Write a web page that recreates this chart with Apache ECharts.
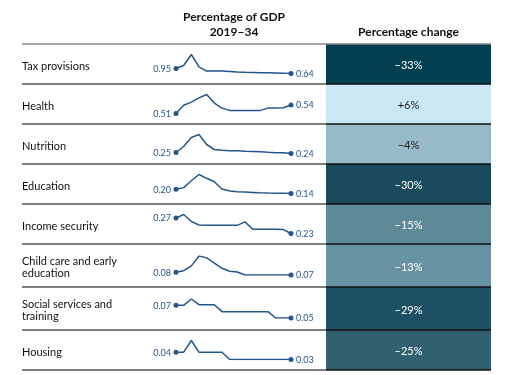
<!DOCTYPE html>
<html>
<head>
<meta charset="utf-8">
<script src="https://cdn.jsdelivr.net/npm/echarts@6/dist/echarts.min.js"></script>
<style>
  html, body { margin: 0; padding: 0; background: #fff; }
  #chart { width: 518px; height: 375px; }
</style>
</head>
<body>
<div id="chart"></div>
<script>
// rows of the table
const categories = [
  'Tax provisions',
  'Health',
  'Nutrition',
  'Education',
  'Income security',
  'Child care and early\neducation',
  'Social services and\ntraining',
  'Housing',
]

const years = ['2019', '2020', '2021', '2022', '2023', '2024', '2025', '2026',
  '2027', '2028', '2029', '2030', '2031', '2032', '2033', '2034']

// percentage of GDP, 2019-34
const taxProvisions = [0.95, 1.14, 1.82, 1.05, 0.79, 0.79, 0.79, 0.77, 0.73, 0.71, 0.70, 0.69, 0.68, 0.67, 0.66, 0.64]
const health = [0.51, 0.539, 0.55, 0.565, 0.577, 0.547, 0.529, 0.521, 0.521, 0.521, 0.521, 0.521, 0.529, 0.529, 0.53, 0.54]
const nutrition = [0.25, 0.31, 0.40, 0.43, 0.33, 0.28, 0.272, 0.267, 0.267, 0.263, 0.26, 0.257, 0.252, 0.248, 0.247, 0.24]
const education = [0.20, 0.225, 0.325, 0.415, 0.36, 0.31, 0.205, 0.175, 0.165, 0.16, 0.155, 0.15, 0.146, 0.144, 0.143, 0.14]
const incomeSecurity = [0.27, 0.279, 0.261, 0.252, 0.251, 0.251, 0.251, 0.251, 0.251, 0.26, 0.241, 0.241, 0.241, 0.241, 0.24, 0.23]
const childCare = [0.08, 0.086, 0.104, 0.141, 0.134, 0.114, 0.095, 0.084, 0.081, 0.07, 0.07, 0.07, 0.07, 0.07, 0.07, 0.07]
const socialServices = [0.07, 0.07, 0.08, 0.071, 0.071, 0.071, 0.06, 0.06, 0.06, 0.06, 0.06, 0.06, 0.06, 0.05, 0.05, 0.05]
const housing = [0.04, 0.04, 0.056, 0.04, 0.04, 0.04, 0.04, 0.03, 0.03, 0.03, 0.03, 0.03, 0.03, 0.03, 0.03, 0.03]

const shareOfGdp = [taxProvisions, health, nutrition, education, incomeSecurity, childCare, socialServices, housing]

// percentage change 2019-34
const percentChange = [-33, 6, -4, -30, -15, -13, -29, -25]

// styles
const blockColors = ['#013f51', '#c9e8f3', '#96bac8', '#1a4b5c', '#5e8997', '#6893a2', '#1d5063', '#31606f']
const lineColor = '#24568a'
const font = 'Lato, "Noto Sans", sans-serif'

// layout
const tableTop = 44
const rowHeights = [40, 40, 40, 40, 40, 43, 43, 40]
const tableLeft = 22
const blockLeft = 326
const blockRight = 491
const sparkLeft = 176
const sparkWidth = 115
const sparkHeight = 19

const rowTops = []
let y = tableTop
rowHeights.forEach((h) => {
  rowTops.push(y)
  y += h
})
const tableBottom = y

function formatChange(v) {
  return (v > 0 ? '+' : '\u2212') + Math.abs(v) + '%'
}

function isLight(hex) {
  const r = parseInt(hex.slice(1, 3), 16)
  const g = parseInt(hex.slice(3, 5), 16)
  const b = parseInt(hex.slice(5, 7), 16)
  return 0.299 * r + 0.587 * g + 0.114 * b > 150
}

const grid = []
const xAxis = []
const yAxis = []
const series = []
const graphic = []

categories.forEach((name, i) => {
  const top = rowTops[i]
  const h = rowHeights[i]
  const mid = top + h / 2
  const values = shareOfGdp[i]
  const last = values.length - 1

  // sparkline
  grid.push({ left: sparkLeft, width: sparkWidth, top: mid - sparkHeight / 2, height: sparkHeight })
  xAxis.push({ type: 'category', gridIndex: 2 * i, data: years, boundaryGap: false, show: false })
  yAxis.push({ type: 'value', gridIndex: 2 * i, min: 'dataMin', max: 'dataMax', show: false })
  series.push({
    type: 'line',
    xAxisIndex: 2 * i,
    yAxisIndex: 2 * i,
    symbol: 'circle',
    showAllSymbol: true,
    lineStyle: { color: lineColor, width: 1.5 },
    itemStyle: { color: lineColor },
    data: values.map((v, k) => {
      const end = k === 0 || k === last
      return {
        value: v,
        symbolSize: end ? 5 : 0,
        label: {
          show: end,
          position: k === 0 ? 'left' : 'right',
          distance: 2.5,
          offset: [0, 0.5],
          color: lineColor,
          fontSize: 9,
          fontFamily: font,
          formatter: (p) => Number(p.value).toFixed(2),
        },
      }
    }),
  })

  // percentage change cell
  grid.push({ left: blockLeft, width: blockRight - blockLeft, top: top, height: h })
  xAxis.push({ type: 'category', gridIndex: 2 * i + 1, data: ['change'], show: false })
  yAxis.push({ type: 'value', gridIndex: 2 * i + 1, min: 0, max: 1, show: false })
  series.push({
    type: 'bar',
    xAxisIndex: 2 * i + 1,
    yAxisIndex: 2 * i + 1,
    barWidth: '100%',
    data: [{ value: 1, itemStyle: { color: blockColors[i] } }],
    label: {
      show: true,
      position: 'inside',
      offset: [0, 1.5],
      color: isLight(blockColors[i]) ? '#1a1a1a' : '#ffffff',
      fontSize: 11,
      fontFamily: font,
      formatter: () => formatChange(percentChange[i]),
    },
  })

  // row label
  graphic.push({
    type: 'text',
    x: tableLeft,
    y: mid + 2,
    style: {
      text: name,
      fill: '#111',
      font: '11px ' + font,
      lineHeight: 12,
      verticalAlign: 'middle',
      align: 'left',
    },
  })
})

// table rules
const boundaries = rowTops.concat([tableBottom])
boundaries.forEach((b, k) => {
  const first = k === 0
  graphic.push({
    type: 'line',
    z: 100,
    shape: { x1: tableLeft, y1: b, x2: blockLeft, y2: b },
    style: { stroke: first ? '#888' : '#555', lineWidth: 1.5 },
  })
  graphic.push({
    type: 'line',
    z: 100,
    shape: { x1: blockLeft, y1: b, x2: blockRight, y2: b },
    style: { stroke: first ? '#888' : '#111', lineWidth: 1.5 },
  })
})

// headers
const headerCenter = sparkLeft + sparkWidth / 2 + 0.5
graphic.push(
  {
    type: 'text', x: headerCenter, y: 17,
    style: { text: 'Percentage of GDP', fill: '#111', font: 'bold 12px ' + font, align: 'center', verticalAlign: 'middle' },
  },
  {
    type: 'text', x: headerCenter, y: 32,
    style: { text: '2019\u201334', fill: '#111', font: 'bold 12px ' + font, align: 'center', verticalAlign: 'middle' },
  },
  {
    type: 'text', x: (blockLeft + blockRight) / 2, y: 32,
    style: { text: 'Percentage change', fill: '#111', font: 'bold 12px ' + font, align: 'center', verticalAlign: 'middle' },
  },
)

const chart = echarts.init(document.getElementById('chart'))
chart.setOption({
  animation: false,
  grid,
  xAxis,
  yAxis,
  series,
  graphic,
})
</script>
</body>
</html>
